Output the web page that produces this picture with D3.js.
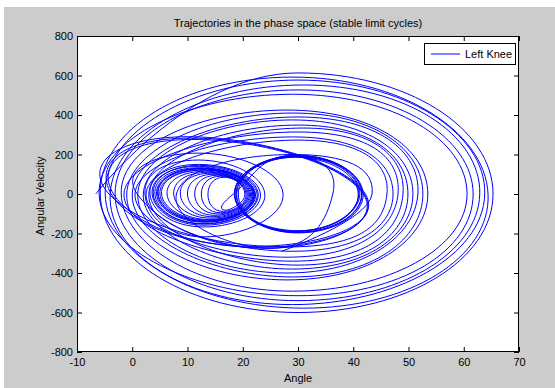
<!DOCTYPE html>
<html><head><meta charset="utf-8">
<script src="https://cdn.jsdelivr.net/npm/d3@7"></script>
<style>body{margin:0;background:#fff;} svg{display:block;font-family:"Liberation Sans",Arial,sans-serif;}</style>
</head><body><svg id="c" width="555" height="388"></svg>
<script>
// ---- axis ticks ----
const angleTicks = [-10, 0, 10, 20, 30, 40, 50, 60, 70];
const velocityTicks = [-800, -600, -400, -200, 0, 200, 400, 600, 800];

// ---- trajectory: one entry per cycle (leftmost, top, rightmost, bottom points), in time order ----
const cycleLeft        = [-6.6,-5.8,-4.9,-4.0,-3.1,-6.0,  -2,-1,0,1,2,3,-1.5,0.5,2.5,  -4.2,-3.8,-3.4,
                          0.9,2.3,3.2,3.6,3.8,4.1,4.4,4.6,4.7,5.0,5.3,6.3,7.5,8.7,10,11.3,12.5,13.7,
                          18.3,18.6,18.9,19.2,18.5,18.8,  18.5,8];
const cycleTopAngle    = [30,29,30,31,30,29,  28,29,30,29,30,31,30,29,30,  10,10.5,11,
                          12,12,12,12,12.2,12.2,12.5,12.6,12.5,12.8,12.8,13.2,13.7,14.2,14.8,15.4,16,16.6,
                          29.5,30,30,29.5,30,30,  29,29];
const cycleTop         = [613,592,577,552,527,505,  425,410,390,375,349,334,314,289,273,  290,283,276,
                          207,172,150,140,145,133,130,128,127,122,121,115,110,105,100,95,90,85,
                          197,193,190,186,195,188,  190,200];
const cycleRight       = [65.3,64.4,63.8,62.9,61.7,60.6,  53.5,52.6,51.7,50.8,49.9,49.0,48.1,47.2,46.1,  42.2,42.0,41.8,
                          27.3,24.0,23.2,22.6,22.8,22.3,22.2,22.1,22.0,21.9,21.8,21.6,21.4,21.2,21.0,20.8,20.6,20.4,
                          41.8,41.5,41.2,40.9,41.6,41.0,  36.3,43.4];
const cycleBottomAngle = [30,31,29,30,30,29,  28,29,28,29,30,29,28,29,28,  22,23,24,
                          13,13,13,13,13,13.2,13.4,13.3,13.5,13.6,13.8,14.2,14.6,15,15.5,16,16.5,17,
                          30,30,29.5,30,30,29.5,  25,27];
const cycleBottom      = [-600,-578,-560,-540,-515,-492,  -435,-420,-400,-380,-360,-340,-320,-290,-268,  -265,-270,-275,
                          -217,-167,-158,-150,-152,-143,-140,-138,-136,-132,-129,-122,-115,-108,-101,-95,-88,-82,
                          -197,-193,-190,-186,-195,-188,  -275,-290];

const titleText = "Trajectories in the phase space (stable limit cycles)";
const xLabel = "Angle", yLabel = "Angular Velocity", seriesName = "Left Knee";

// ---- build point sequence from the cycles ----
const points = [];
cycleLeft.forEach((l, i) => {
  points.push([l, 0]);
  points.push([cycleTopAngle[i], cycleTop[i]]);
  points.push([cycleRight[i], 0]);
  points.push([cycleBottomAngle[i], cycleBottom[i]]);
});

const svg = d3.select('#c');
const W = 555, H = 388;
const plot = {left: 77, right: 519, top: 36, bottom: 352};

svg.append('rect').attr('x', 0).attr('y', 0).attr('width', W).attr('height', H).attr('fill', '#ffffff');
svg.append('rect').attr('x', 4).attr('y', 7).attr('width', W - 4).attr('height', H - 7).attr('fill', '#cccccc');
svg.append('rect').attr('x', plot.left).attr('y', plot.top)
  .attr('width', plot.right - plot.left).attr('height', plot.bottom - plot.top).attr('fill', '#ffffff');

const x = d3.scaleLinear().domain([-10, 70]).range([plot.left, plot.right]);
const y = d3.scaleLinear().domain([-800, 800]).range([plot.bottom, plot.top]);

svg.append('clipPath').attr('id', 'clip').append('rect')
  .attr('x', plot.left).attr('y', plot.top)
  .attr('width', plot.right - plot.left).attr('height', plot.bottom - plot.top);

const line = d3.line().x(d => x(d[0])).y(d => y(d[1])).curve(d3.curveCardinal.tension(-0.65));
svg.append('path').attr('clip-path', 'url(#clip)')
  .attr('d', line(points)).attr('fill', 'none')
  .attr('stroke', '#0000ff').attr('stroke-width', 1);

const fmt = d => String(d);
function styleAxis(g, labels) {
  g.select('.domain').remove();
  g.attr('font-size', 11).attr('font-family', '"Liberation Sans",Arial,sans-serif');
  g.selectAll('.tick line').attr('stroke', '#000');
  g.selectAll('.tick text').attr('fill', '#000');
  if (!labels) g.selectAll('.tick text').remove();
}
svg.append('g').attr('transform', `translate(0,${plot.bottom})`)
  .call(d3.axisBottom(x).tickValues(angleTicks).tickFormat(fmt).tickSizeInner(-5).tickSizeOuter(0).tickPadding(6))
  .call(g => styleAxis(g, true));
svg.append('g').attr('transform', `translate(0,${plot.top})`)
  .call(d3.axisTop(x).tickValues(angleTicks).tickSizeInner(-5).tickSizeOuter(0))
  .call(g => styleAxis(g, false));
svg.append('g').attr('transform', `translate(${plot.left},0)`)
  .call(d3.axisLeft(y).tickValues(velocityTicks).tickFormat(fmt).tickSizeInner(-5).tickSizeOuter(0).tickPadding(4))
  .call(g => styleAxis(g, true));
svg.append('g').attr('transform', `translate(${plot.right},0)`)
  .call(d3.axisRight(y).tickValues(velocityTicks).tickSizeInner(-5).tickSizeOuter(0))
  .call(g => styleAxis(g, false));

svg.append('rect').attr('x', plot.left + 0.5).attr('y', plot.top + 0.5)
  .attr('width', plot.right - plot.left - 1).attr('height', plot.bottom - plot.top - 1)
  .attr('fill', 'none').attr('stroke', '#000').attr('stroke-width', 1);

svg.append('text').attr('x', (plot.left + plot.right) / 2).attr('y', 27)
  .attr('text-anchor', 'middle').attr('font-size', 11).text(titleText);
svg.append('text').attr('x', (plot.left + plot.right) / 2).attr('y', 382)
  .attr('text-anchor', 'middle').attr('font-size', 11).text(xLabel);
svg.append('text').attr('transform', 'translate(44,196) rotate(-90)')
  .attr('text-anchor', 'middle').attr('font-size', 11).text(yLabel);

// legend
const lg = svg.append('g');
lg.append('rect').attr('x', 424.5).attr('y', 43.5).attr('width', 91).attr('height', 21)
  .attr('fill', '#fff').attr('stroke', '#000').attr('stroke-width', 1);
lg.append('line').attr('x1', 431).attr('x2', 460).attr('y1', 54).attr('y2', 54)
  .attr('stroke', '#0000ff').attr('stroke-width', 1);
lg.append('text').attr('x', 465).attr('y', 58).attr('font-size', 11).text(seriesName);
</script></body></html>
